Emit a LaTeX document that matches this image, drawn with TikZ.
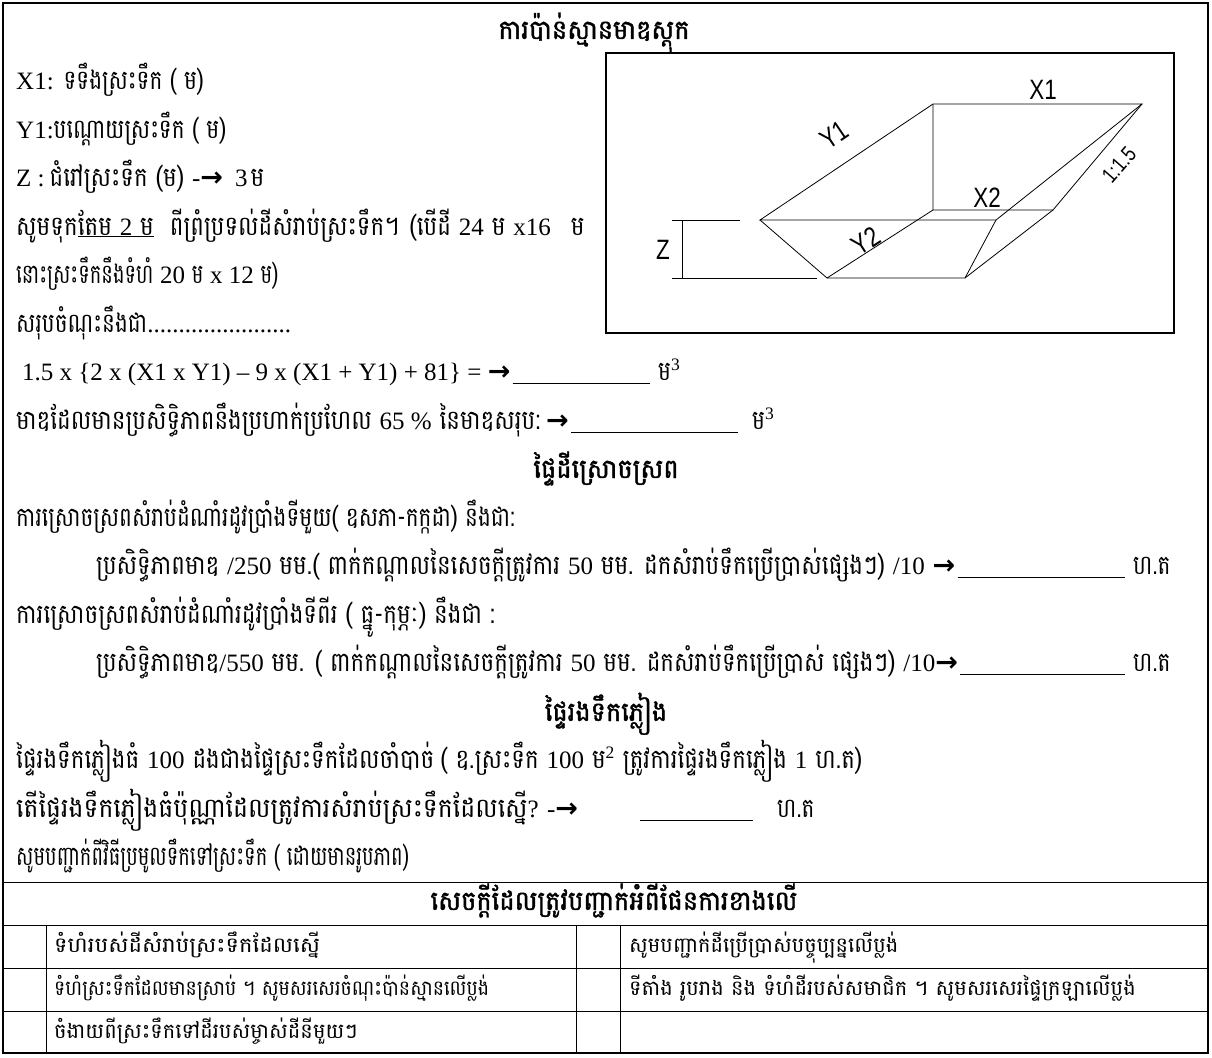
\documentclass[tikz,border=0pt]{standalone}
\usepackage{fontspec}
\setmainfont{Liberation Serif}
\newfontfamily\kh[Script=Khmer,FakeStretch=0.8]{Battambang}
\newfontfamily\khw[Script=Khmer,FakeStretch=0.85]{Battambang}
\newfontfamily\khx[Script=Khmer,FakeStretch=0.93]{Battambang}
\newfontfamily\khn[Script=Khmer,FakeStretch=0.72]{Battambang}
\newfontfamily\khb[Script=Khmer,FakeStretch=0.95,FakeBold=1.5]{Battambang}
\newfontfamily\khs[Script=Khmer,FakeStretch=1.0]{Battambang}
\newfontfamily\khsw[Script=Khmer,FakeStretch=1.08]{Battambang}
\newfontfamily\khsn[Script=Khmer,FakeStretch=0.9]{Battambang}
\newfontfamily\arrfont{DejaVu Sans}
\newfontfamily\lblfont[FakeStretch=0.8]{Liberation Sans}
\newcommand\lat[1]{{\rmfamily\fontsize{25}{28}\selectfont #1}}
\newcommand\arw{{\arrfont\fontsize{27}{28}\selectfont\bfseries →}}
\newcommand\bodysize{\fontsize{27}{30}\selectfont}
\newcommand\tabsize{\fontsize{21}{24}\selectfont}
\begin{document}
\begin{tikzpicture}[x=1pt,y=-1pt,
  tx/.style={anchor=base west,inner sep=0pt,font=\kh\bodysize},
  txw/.style={tx,font=\khw\bodysize},
  hd/.style={anchor=base,inner sep=0pt,font=\khb\fontsize{27}{30}\selectfont},
  tb/.style={anchor=base west,inner sep=0pt,font=\khs\tabsize},
  frame/.style={line width=1.2pt},
  thin/.style={line width=0.8pt},
  blank/.style={line width=0.8pt},
  lbl/.style={font=\lblfont\fontsize{28}{30}\selectfont,inner sep=0pt}]
\useasboundingbox (0,0) rectangle (1212,1057);
% outer frame
\draw[frame] (3,3) rectangle (1208,1053);
% title
\node[hd] (title) at (594,39) {ការប៉ាន់ស្មានមាឌស្តុក};
% left text block
\node[tx] (l1) at (16,89) {\lat{X1:} ទទឹងស្រះទឹក ( ម)};
\node[tx] (l2) at (16,138) {\lat{Y1:}បណ្តោយស្រះទឹក ( ម)};
\node[txw] (l3) at (16,186) {\lat{Z :}\hspace{5pt}ជំរៅស្រះទឹក (ម)\hspace{8pt}\lat{-}\arw\hspace{12pt}\lat{3}\hspace{3pt}ម};
\node[txw] (l4) at (16,235) {សូមទុក\underline{តែម \lat{2} ម}\hspace{16pt}ពីព្រំប្រទល់ដីសំរាប់ស្រះទឹក។\hspace{10pt}(បើដី \lat{24} ម\hspace{8pt}\lat{x16}\hspace{20pt}ម};
\node[tx,font=\khn\bodysize] (l5) at (16,283) {នោះស្រះទឹកនឹងទំហំ \lat{20} ម \lat{x 12} ម)};
\node[tx] (l6) at (16,332) {សរុបចំណុះនឹងជា\lat{.......................}};
\node[tx] (l7) at (22,380) {\lat{1.5 x \{2 x (X1 x Y1) – 9 x (X1 + Y1) + 81\} = }\arw};
\node[tx] (u7) at (658,380) {ម\lat{\textsuperscript{3}}};
\draw[blank] ([xshift=2pt,yshift=-3pt]l7.base east) -- ([xshift=-8pt,yshift=-3pt]u7.base west);
\node[txw] (l8) at (16,429) {មាឌដែលមានប្រសិទ្ធិភាពនឹងប្រហាក់ប្រហែល \lat{65 \%} នៃមាឌសរុប:\hspace{6pt}\arw};
\node[tx] (u8) at (752,429) {ម\lat{\textsuperscript{3}}};
\draw[blank] ([xshift=2pt,yshift=-3pt]l8.base east) -- ([xshift=-14pt,yshift=-3pt]u8.base west);
% irrigation
\node[hd] (h1) at (606,478) {ផ្ទៃដីស្រោចស្រព};
\node[tx] (l9) at (16,526) {ការស្រោចស្រពសំរាប់ដំណាំរដូវប្រាំងទីមួយ( ឧសភា-កក្កដា) នឹងជា:};
\node[txw] (l10) at (96,574) {ប្រសិទ្ធិភាពមាឌ \lat{/250} មម.( ពាក់កណ្តាលនៃសេចក្តីត្រូវការ \lat{50} មម. ដកសំរាប់ទឹកប្រើប្រាស់ផ្សេងៗ) \lat{/10} \arw};
\node[tx] (u10) at (1133,574) {ហ.ត};
\draw[blank] ([xshift=2pt,yshift=-3pt]l10.base east) -- ([xshift=-8pt,yshift=-3pt]u10.base west);
\node[txw] (l11) at (16,623) {ការស្រោចស្រពសំរាប់ដំណាំរដូវប្រាំងទីពីរ ( ធ្នូ-កុម្ភៈ) នឹងជា :};
\node[txw] (l12) at (96,671) {ប្រសិទ្ធិភាពមាឌ\lat{/550} មម. ( ពាក់កណ្តាលនៃសេចក្តីត្រូវការ \lat{50} មម. ដកសំរាប់ទឹកប្រើប្រាស់ ផ្សេងៗ) \lat{/10}\arw};
\node[tx] (u12) at (1133,671) {ហ.ត};
\draw[blank] ([xshift=2pt,yshift=-3pt]l12.base east) -- ([xshift=-8pt,yshift=-3pt]u12.base west);
% rain catchment
\node[hd] (h2) at (606,721) {ផ្ទៃរងទឹកភ្លៀង};
\node[txw] (l13) at (16,768) {ផ្ទៃរងទឹកភ្លៀងធំ \lat{100} ដងជាងផ្ទៃស្រះទឹកដែលចាំបាច់\hspace{6pt}( ឧ.ស្រះទឹក \lat{100} ម\lat{\textsuperscript{2}}\hspace{8pt}ត្រូវការផ្ទៃរងទឹកភ្លៀង \lat{1} ហ.ត)};
\node[tx,font=\khx\bodysize] (l14) at (16,817) {តើផ្ទៃរងទឹកភ្លៀងធំប៉ុណ្ណាដែលត្រូវការសំរាប់ស្រះទឹកដែលស្នើ\lat{? -}\arw};
\node[tx] (u14) at (777,817) {ហ.ត};
\draw[blank] (640,820) -- ([xshift=-24pt,yshift=-3pt]u14.base west);
\node[tx,font=\khn\bodysize] (l15) at (16,865) {សូមបញ្ជាក់ពីវិធីប្រមូលទឹកទៅស្រះទឹក ( ដោយមានរូបភាព)};
% table
\draw[thin] (3,882) -- (1208,882);
\draw[thin] (3,925) -- (1208,925);
\draw[thin] (3,968) -- (1208,968);
\draw[thin] (3,1011) -- (1208,1011);
\draw[thin] (46,925) -- (46,1053);
\draw[thin] (576,925) -- (576,1053);
\draw[thin] (620,925) -- (620,1053);
\node[hd] (th) at (614,910) {សេចក្តីដែលត្រូវបញ្ជាក់អំពីផែនការខាងលើ};
\node[tb,font=\khsw\tabsize] (r1a) at (54,952) {ទំហំរបស់ដីសំរាប់ស្រះទឹកដែលស្នើ};
\node[tb] (r1b) at (629,952) {សូមបញ្ជាក់ដីប្រើប្រាស់បច្ចុប្បន្នលើប្លង់};
\node[tb,font=\khsn\tabsize] (r2a) at (54,995) {ទំហំស្រះទឹកដែលមានស្រាប់ ។ សូមសរសេរចំណុះប៉ាន់ស្មានលើប្លង់};
\node[tb] (r2b) at (629,995) {ទីតាំង រូបរាង និង ទំហំដីរបស់សមាជិក ។ សូមសរសេរផ្ទៃក្រឡាលើប្លង់};
\node[tb] (r3a) at (54,1038) {ចំងាយពីស្រះទឹកទៅដីរបស់ម្ចាស់ដីនីមួយៗ};
% pond diagram
\draw[frame] (606,53) rectangle (1174,333);
\coordinate (A) at (933,104);
\coordinate (B) at (1142,104);
\coordinate (C) at (760,220);
\coordinate (G) at (996,220);
\coordinate (E) at (933,210);
\coordinate (F) at (1053,210);
\coordinate (I) at (827,278);
\coordinate (H) at (965,278);
\draw[thin] (C) -- (A) -- (B) -- (G) -- cycle;
\draw[thin] (A) -- (E) -- (F) -- (B);
\draw[thin] (C) -- (I) -- (H) -- (G);
\draw[thin] (I) -- (E);
\draw[thin] (H) -- (F);
\coordinate (z1) at (672,220);
\coordinate (z2) at (740,220);
\coordinate (z3) at (672,278);
\coordinate (z4) at (817,278);
\coordinate (z5) at (682,220);
\coordinate (z6) at (682,278);
\draw[thin] (z1) -- (z2);
\draw[thin] (z3) -- (z4);
\draw[thin] (z5) -- (z6);
\node[lbl] (zl) at (663,250) {Z};
\node[lbl] (x1l) at (1043,90) {X1};
\node[lbl] (x2l) at (987,198) {X2};
\node[lbl,rotate=34] (y1l) at (834,135) {Y1};
\node[lbl,rotate=33] (y2l) at (866,241) {Y2};
\node[lbl,rotate=49,font=\lblfont\fontsize{22}{24}\selectfont] (sl) at (1119,165) {1:1.5};
\end{tikzpicture}
\end{document}
